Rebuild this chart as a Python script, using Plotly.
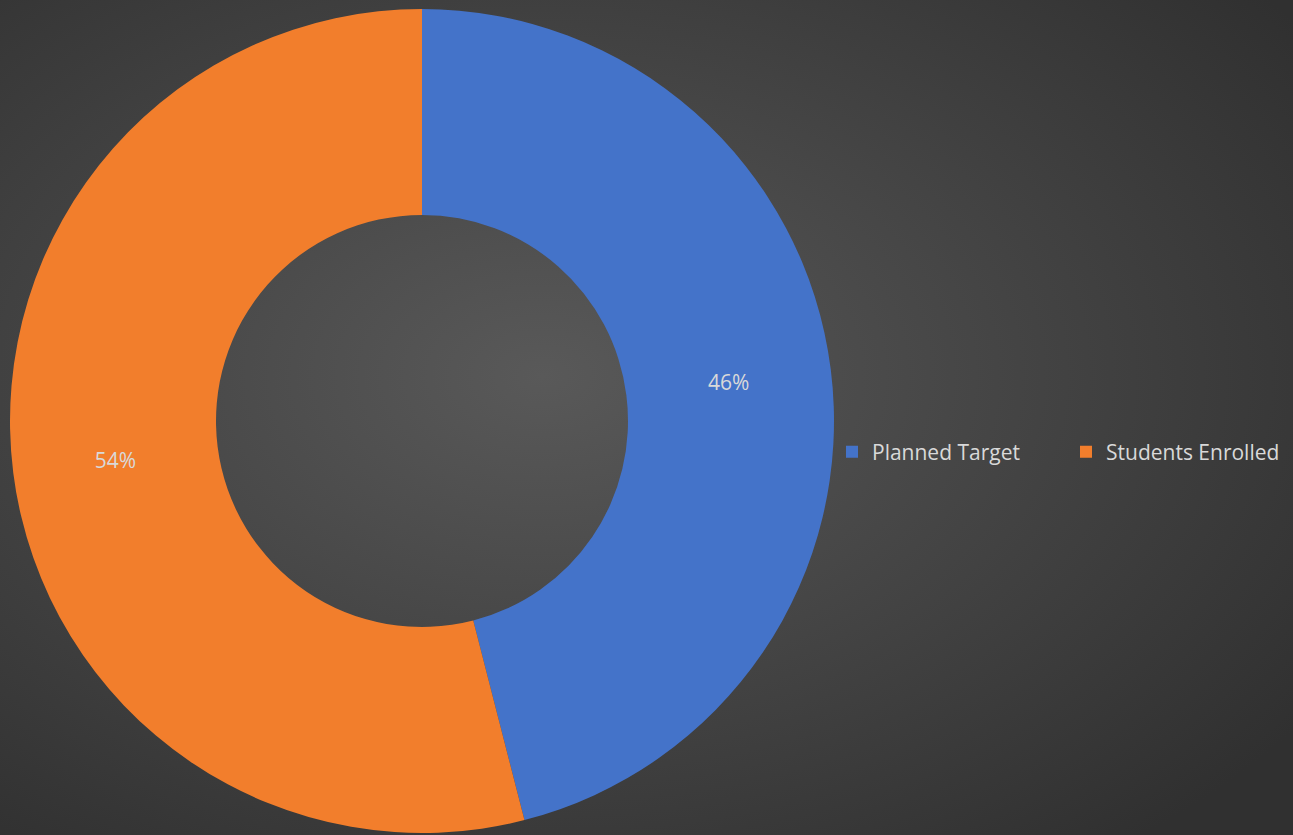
import plotly.graph_objects as go
import urllib.parse

labels = ["Planned Target", "Students Enrolled"]
values = [46, 54]
colors = ["#4473C9", "#F27E2C"]

W, H = 1293, 835

bg_svg = (
    "<svg xmlns='http://www.w3.org/2000/svg' width='1293' height='835' viewBox='0 0 1293 835' preserveAspectRatio='none'>"
    "<defs><radialGradient id='g' cx='0.42' cy='0.45' r='0.72'>"
    "<stop offset='0' stop-color='#595959'/><stop offset='1' stop-color='#303030'/>"
    "</radialGradient></defs>"
    "<rect width='1293' height='835' fill='url(#g)'/></svg>"
)
bg_uri = "data:image/svg+xml;charset=utf-8," + urllib.parse.quote(bg_svg)

fig = go.Figure(
    go.Pie(
        labels=labels,
        values=values,
        hole=0.5,
        sort=False,
        direction="clockwise",
        rotation=0,
        marker=dict(colors=colors, line=dict(width=0)),
        texttemplate="%{percent:.0%}",
        textposition="inside",
        insidetextorientation="horizontal",
        textfont=dict(color="#d9d9d9", size=21, family="Open Sans"),
        domain=dict(x=[10 / W, 834 / W], y=[2 / H, 826 / H]),
    )
)

fig.update_layout(
    width=W,
    height=H,
    margin=dict(l=0, r=0, t=0, b=0, autoexpand=False),
    paper_bgcolor="#404040",
    plot_bgcolor="rgba(0,0,0,0)",
    showlegend=True,
    legend=dict(
        orientation="h",
        x=832 / W,
        xanchor="left",
        y=(H - 452) / H,
        yanchor="middle",
        entrywidth=189,
        font=dict(color="#d9d9d9", size=21, family="Open Sans"),
        bgcolor="rgba(0,0,0,0)",
        itemsizing="constant",
    ),
    images=[
        dict(
            source=bg_uri,
            xref="paper",
            yref="paper",
            x=0,
            y=1,
            sizex=1,
            sizey=1,
            xanchor="left",
            yanchor="top",
            sizing="stretch",
            layer="below",
        )
    ],
)

fig.write_html("out.html")
